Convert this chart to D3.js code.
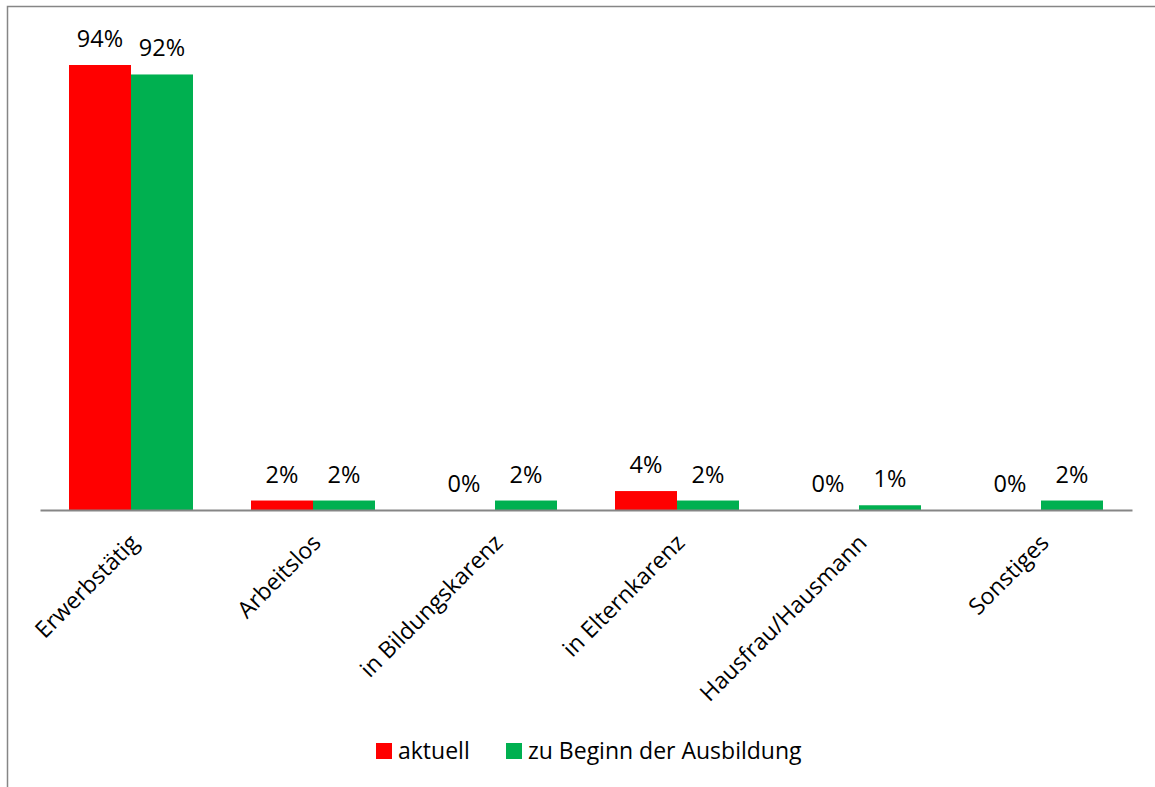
<!DOCTYPE html>
<html>
<head>
<meta charset="utf-8">
<script src="https://cdn.jsdelivr.net/npm/d3@7"></script>
<style>
  html, body { margin: 0; padding: 0; background: #fff; }
  svg { display: block; font-family: "Open Sans", "Noto Sans", sans-serif; }
</style>
</head>
<body>
<svg id="chart" width="1155" height="787"></svg>
<script>
// Erwerbsstatus: aktuell vs. zu Beginn der Ausbildung (Anteile)
const categories = ["Erwerbstätig", "Arbeitslos", "in Bildungskarenz", "in Elternkarenz", "Hausfrau/Hausmann", "Sonstiges"];
const seriesNames = ["aktuell", "zu Beginn der Ausbildung"];
const aktuell = [0.94, 0.02, 0.00, 0.04, 0.00, 0.00];
const zuBeginn = [0.92, 0.02, 0.02, 0.02, 0.01, 0.02];
const seriesColors = ["#FF0000", "#00B050"];

const seriesValues = [aktuell, zuBeginn];
const rows = categories.map((c, i) => ({
  category: c,
  values: seriesNames.map((s, j) => ({ series: s, value: seriesValues[j][i], color: seriesColors[j] }))
}));

const svg = d3.select("#chart");
const W = 1155, H = 787;

// outer frame (continues past the right and bottom edges)
svg.append("rect")
  .attr("x", 7.5).attr("y", 6.5)
  .attr("width", W + 20).attr("height", H + 20)
  .attr("fill", "#fff")
  .attr("stroke", "#868686")
  .attr("stroke-width", 1.5);

const plot = { left: 40, right: 1132, top: 36.6, bottom: 510 };

const x0 = d3.scaleBand().domain(categories).range([plot.left, plot.right]).padding(0);
const groupWidth = 124;
const x1 = d3.scaleBand().domain(seriesNames).range([0, groupWidth]).padding(0);
const y = d3.scaleLinear().domain([0, 1]).range([plot.bottom, plot.top]);
const fmt = d3.format(".0%");

const groups = svg.append("g").selectAll("g.cat")
  .data(rows).join("g")
  .attr("class", "cat")
  .attr("transform", d => `translate(${x0(d.category) + (x0.bandwidth() - groupWidth) / 2},0)`);

groups.selectAll("rect")
  .data(d => d.values).join("rect")
  .attr("x", d => x1(d.series))
  .attr("y", d => y(d.value))
  .attr("width", x1.bandwidth())
  .attr("height", d => y(0) - y(d.value))
  .attr("fill", d => d.color);

groups.selectAll("text.val")
  .data(d => d.values).join("text")
  .attr("class", "val")
  .attr("x", d => x1(d.series) + x1.bandwidth() / 2)
  .attr("y", d => y(d.value) - 18)
  .attr("text-anchor", "middle")
  .attr("font-size", 23.5)
  .attr("fill", "#000")
  .text(d => fmt(d.value));

// category axis
const xAxis = d3.axisBottom(x0).tickSize(0).tickPadding(0);
const axisG = svg.append("g").attr("transform", `translate(0,${plot.bottom})`).call(xAxis);
axisG.select(".domain").attr("stroke", "#868686").attr("stroke-width", 2);
axisG.selectAll(".tick text")
  .attr("font-family", "\"Open Sans\", sans-serif")
  .attr("font-size", 23)
  .attr("fill", "#000")
  .attr("text-anchor", "end")
  .attr("transform", "translate(-3,22) rotate(-45)")
  .attr("x", 0).attr("y", 0).attr("dy", "0.75em");

// legend
const legend = svg.append("g").attr("transform", "translate(376,743)");
const legendX = [0, 130];
seriesNames.forEach((s, i) => {
  const g = legend.append("g").attr("transform", `translate(${legendX[i]},0)`);
  g.append("rect").attr("width", 16).attr("height", 16).attr("fill", seriesColors[i]);
  g.append("text").attr("x", 22).attr("y", 16)
    .attr("font-size", 23).attr("fill", "#000").text(s);
});
</script>
</body>
</html>
